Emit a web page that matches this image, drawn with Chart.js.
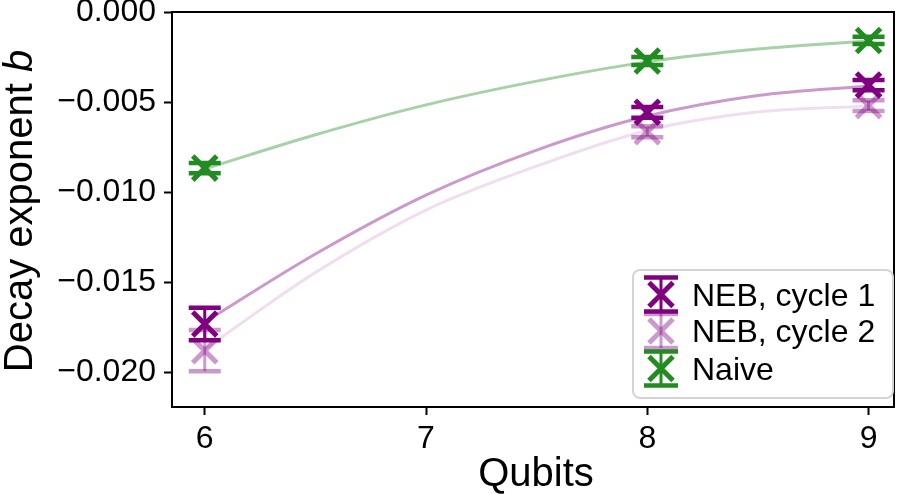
<!DOCTYPE html>
<html>
<head>
<meta charset="utf-8">
<script src="https://cdn.jsdelivr.net/npm/chart.js@4.4.1/dist/chart.umd.min.js"></script>
<style>
  html, body { margin: 0; padding: 0; background: #fff; }
  #wrap { width: 904px; height: 494px; }
</style>
</head>
<body>
<div id="wrap"><canvas id="chart" width="904" height="494"></canvas></div>
<script>
// measured decay exponents (with error bars)
const qubits = [6, 8, 9];
const neb1Values = [-0.01733, -0.00557, -0.00406];
const neb1Errors = [0.0009, 0.0003, 0.00028];
const neb2Values = [-0.01881, -0.00665, -0.0052];
const neb2Errors = [0.00114, 0.0003, 0.0003];
const naiveValues = [-0.00867, -0.00272, -0.00158];
const naiveErrors = [0.00028, 0.00022, 0.0002];

// fitted curves
const fitQubits = [6, 6.5, 7, 7.5, 8, 8.5, 9];
const neb1Fit = [-0.01722, -0.01344, -0.01017, -0.00767, -0.00578, -0.00464, -0.00411];
const neb2Fit = [-0.01872, -0.01447, -0.0110, -0.00856, -0.00658, -0.00556, -0.00522];
const naiveFit = [-0.00872, -0.00682, -0.00516, -0.00384, -0.00277, -0.00206, -0.00161];

const xTicks = [6, 7, 8, 9];
const yTicks = [0, -0.005, -0.01, -0.015, -0.02];
const legendLabels = ['NEB, cycle 1', 'NEB, cycle 2', 'Naive'];

const PURPLE = 'rgb(128,0,128)';
const PURPLE_LIGHT = 'rgba(128,0,128,0.4)';
const GREEN = 'rgb(34,139,34)';
const FONT = '"Liberation Sans", Arial, sans-serif';

const pts = (xs, ys) => xs.map((x, i) => ({ x: x, y: ys[i] }));

function markerSet(label, values, errors, color) {
    return {
        label: label,
        data: pts(qubits, values),
        errors: errors,
        showLine: false,
        pointStyle: 'crossRot',
        pointRadius: 17,
        pointBorderWidth: 5,
        pointBorderColor: color,
        pointBackgroundColor: color
    };
}

function curveSet(values, color) {
    return {
        data: pts(fitQubits, values),
        borderColor: color,
        borderWidth: 3,
        pointRadius: 0,
        cubicInterpolationMode: 'monotone',
        fill: false
    };
}

// error bars are drawn right after their own dataset
const errorBars = {
    id: 'errorBars',
    afterDatasetDraw(chart, args) {
        const ds = chart.data.datasets[args.index];
        if (!ds.errors) return;
        const ctx = chart.ctx;
        const x = chart.scales.x, y = chart.scales.y;
        ctx.save();
        ctx.strokeStyle = ds.pointBorderColor;
        ds.data.forEach((p, i) => {
            const px = x.getPixelForValue(p.x);
            const top = y.getPixelForValue(p.y + ds.errors[i]);
            const bot = y.getPixelForValue(p.y - ds.errors[i]);
            ctx.lineWidth = 3;
            ctx.beginPath();
            ctx.moveTo(px, top);
            ctx.lineTo(px, bot);
            ctx.stroke();
            ctx.lineWidth = 4.5;
            ctx.beginPath();
            ctx.moveTo(px - 16, top); ctx.lineTo(px + 16, top);
            ctx.moveTo(px - 16, bot); ctx.lineTo(px + 16, bot);
            ctx.stroke();
        });
        ctx.restore();
    }
};

// top/right spines, axis titles and the legend box
const decorations = {
    id: 'decorations',
    afterDraw(chart) {
        const ctx = chart.ctx;
        const a = chart.chartArea;
        ctx.save();
        ctx.strokeStyle = '#000';
        ctx.lineWidth = 2;
        ctx.beginPath();
        ctx.moveTo(a.left, a.top);
        ctx.lineTo(a.right, a.top);
        ctx.lineTo(a.right, a.bottom);
        ctx.stroke();

        ctx.fillStyle = '#000';
        ctx.font = '40px ' + FONT;
        ctx.textAlign = 'center';
        ctx.textBaseline = 'alphabetic';
        ctx.fillText('Qubits', (a.left + a.right) / 2 + 3, 486);

        // y title with italic b
        ctx.translate(32, 211);
        ctx.rotate(-Math.PI / 2);
        ctx.textAlign = 'left';
        const part1 = 'Decay exponent ';
        ctx.font = '40px ' + FONT;
        const w1 = ctx.measureText(part1).width;
        ctx.font = 'italic 40px ' + FONT;
        const w2 = ctx.measureText('b').width;
        const start = -(w1 + w2) / 2;
        ctx.font = '40px ' + FONT;
        ctx.fillText(part1, start, 0);
        ctx.font = 'italic 40px ' + FONT;
        ctx.fillText('b', start + w1, 0);
        ctx.setTransform(1, 0, 0, 1, 0, 0);

        // legend
        ctx.fillStyle = 'rgba(255,255,255,0.8)';
        ctx.strokeStyle = '#d4d4d4';
        ctx.lineWidth = 2;
        ctx.beginPath();
        ctx.roundRect(633, 270, 260, 128, 7);
        ctx.fill();
        ctx.stroke();

        const colors = [PURPLE, PURPLE_LIGHT, GREEN];
        const centers = [294.5, 331, 368.5];
        legendLabels.forEach((label, i) => {
            const cx = 661, cy = centers[i];
            ctx.strokeStyle = colors[i];
            ctx.lineWidth = 3;
            ctx.beginPath();
            ctx.moveTo(cx, cy - 17); ctx.lineTo(cx, cy + 17);
            ctx.stroke();
            ctx.lineWidth = 4.5;
            ctx.beginPath();
            ctx.moveTo(cx - 17, cy - 17); ctx.lineTo(cx + 17, cy - 17);
            ctx.moveTo(cx - 17, cy + 17); ctx.lineTo(cx + 17, cy + 17);
            ctx.stroke();
            ctx.lineWidth = 5;
            ctx.beginPath();
            ctx.moveTo(cx - 12, cy - 12); ctx.lineTo(cx + 12, cy + 12);
            ctx.moveTo(cx - 12, cy + 12); ctx.lineTo(cx + 12, cy - 12);
            ctx.stroke();
            ctx.fillStyle = '#000';
            ctx.font = '32px ' + FONT;
            ctx.textAlign = 'left';
            ctx.textBaseline = 'alphabetic';
            ctx.fillText(label, 692, cy + 11);
        });
        ctx.restore();
    }
};

const tickFmt = v => (v === 0 ? '0.000' : '\u2212' + Math.abs(v).toFixed(3));

new Chart(document.getElementById('chart'), {
    type: 'line',
    data: {
        datasets: [
            markerSet('NEB, cycle 1', neb1Values, neb1Errors, PURPLE),
            markerSet('NEB, cycle 2', neb2Values, neb2Errors, PURPLE_LIGHT),
            markerSet('Naive', naiveValues, naiveErrors, GREEN),
            curveSet(neb1Fit, 'rgba(128,0,128,0.4)'),
            curveSet(neb2Fit, 'rgba(128,0,128,0.13)'),
            curveSet(naiveFit, 'rgba(34,139,34,0.4)')
        ]
    },
    options: {
        responsive: false,
        animation: false,
        events: [],
        layout: { autoPadding: false, padding: { top: 12, right: 10, left: 0, bottom: 0 } },
        plugins: { legend: { display: false }, tooltip: { enabled: false } },
        scales: {
            x: {
                type: 'linear',
                min: 5.852,
                max: 9.115,
                afterBuildTicks: axis => { axis.ticks = xTicks.map(v => ({ value: v })); },
                afterFit: s => { s.height = 87; s.paddingLeft = 0; s.paddingRight = 0; },
                grid: { drawOnChartArea: false, tickLength: 8, tickWidth: 2, tickColor: '#000' },
                border: { color: '#000', width: 2 },
                ticks: { color: '#000', font: { family: FONT, size: 32 }, padding: 5, maxRotation: 0,
                         callback: v => String(v) }
            },
            y: {
                type: 'linear',
                min: -0.02194,
                max: 0,
                afterBuildTicks: axis => { axis.ticks = yTicks.map(v => ({ value: v })); },
                afterFit: s => { s.width = 172; s.paddingTop = 0; s.paddingBottom = 0; },
                grid: { drawOnChartArea: false, tickLength: 8, tickWidth: 2, tickColor: '#000' },
                border: { color: '#000', width: 2 },
                ticks: { color: '#000', font: { family: FONT, size: 32 }, padding: 8,
                         callback: tickFmt }
            }
        }
    },
    plugins: [errorBars, decorations]
});
</script>
</body>
</html>
